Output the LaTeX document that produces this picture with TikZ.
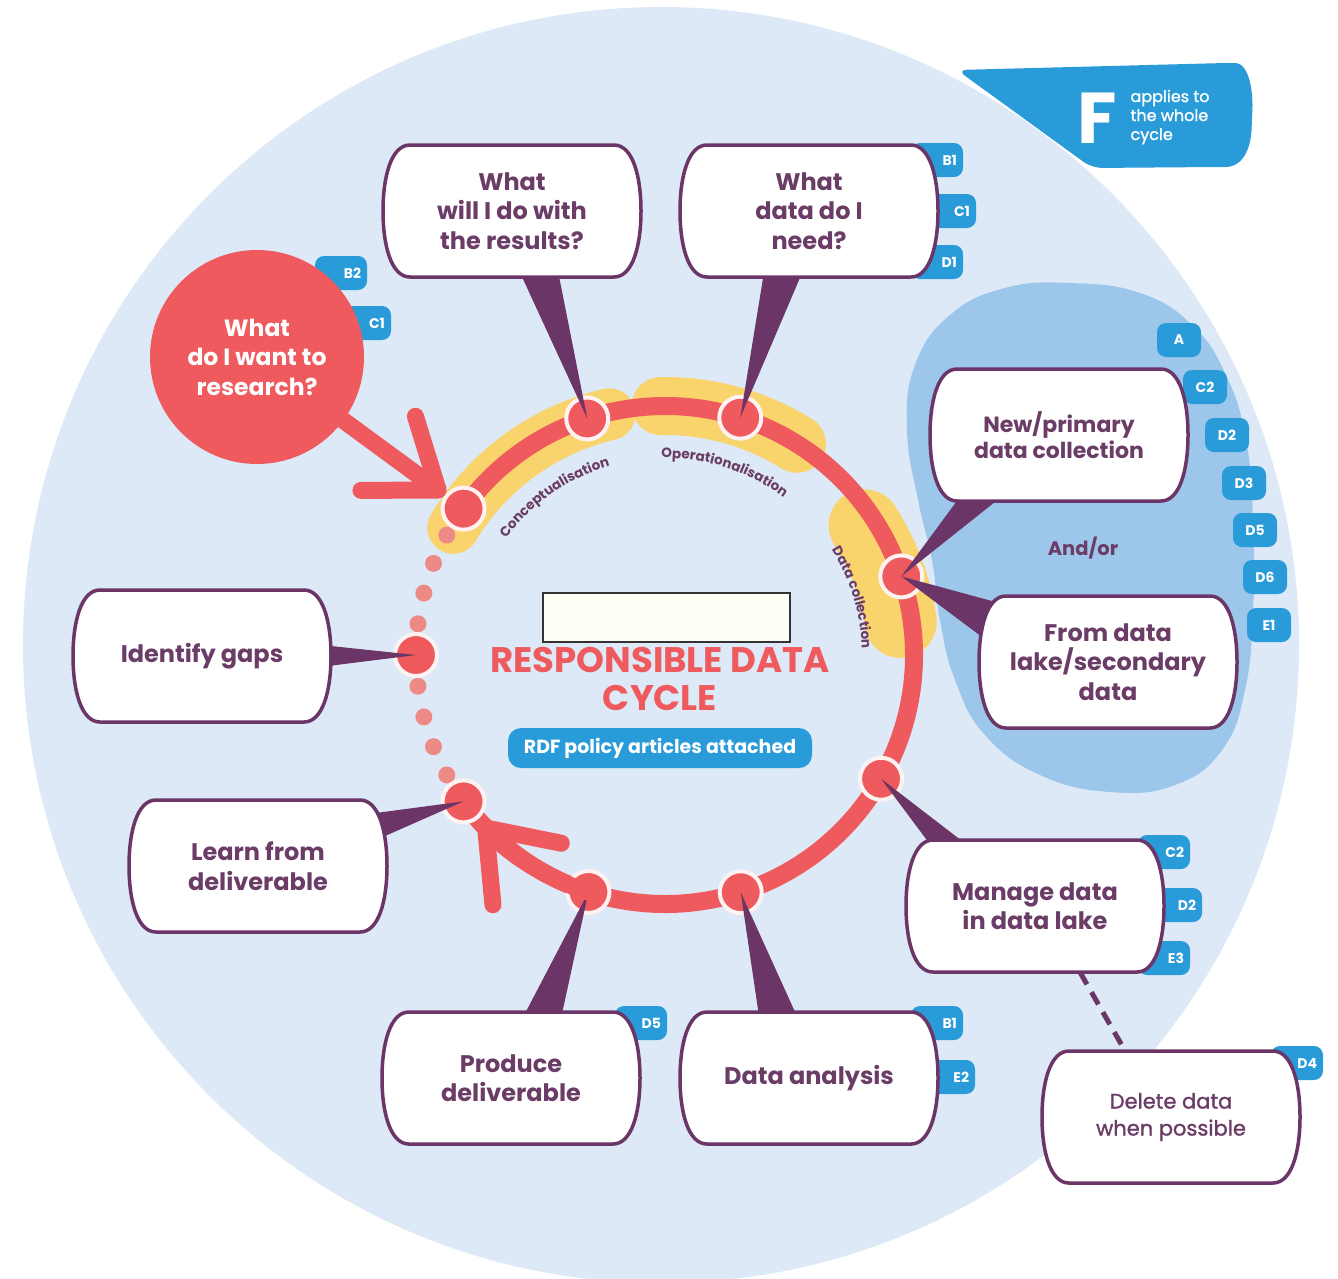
\documentclass[tikz,border=0pt]{standalone}
\usepackage{fontspec}
\setmainfont{Poppins}
\newfontfamily\popsemi[FakeBold=1.3]{Poppins}
\usetikzlibrary{arrows.meta,decorations.text,calc}
\pgfdeclarelayer{lay0}\pgfdeclarelayer{lay1}\pgfdeclarelayer{lay2}
\pgfsetlayers{lay0,lay1,lay2,main}
\definecolor{bgc}{HTML}{DDE9F6}
\definecolor{blobc}{HTML}{9CC6EA}
\definecolor{tagc}{HTML}{2A9BD9}
\definecolor{redc}{HTML}{EE5A5D}
\definecolor{dotc}{HTML}{EE8A86}
\definecolor{yelc}{HTML}{F9D36B}
\definecolor{purc}{HTML}{6B3667}
\definecolor{txtc}{HTML}{6A3C66}
\newcommand\boxshape[1]{\path[boxdraw, shift={(#1.center)}] (-102,-66) -- (102,-66) .. controls (121,-66) and (129,-34) .. (129,0) .. controls (129,34) and (121,66) .. (102,66) -- (-102,66) .. controls (-121,66) and (-129,34) .. (-129,0) .. controls (-129,-34) and (-121,-66) .. (-102,-66) -- cycle;}
\begin{document}
\begin{tikzpicture}[x=1pt,y=-1pt,
  boxtxt/.style={minimum width=258pt, minimum height=132pt, align=center, text=txtc, inner sep=0pt, font=\fontsize{24}{29.5}\selectfont\bfseries},
  boxdraw/.style={fill=white, draw=purc, line width=3.5pt},
  rnode/.style={circle, fill=redc, draw=white!92!redc, line width=4pt, minimum size=42pt, inner sep=0pt},
  ringline/.style={draw=redc, line width=18pt},
  yel/.style={draw=yelc, line cap=round},
  ptr/.style={fill=purc},
  tagbase/.style={fill=tagc, text=white, rounded corners=9pt, minimum height=34pt, inner ysep=0pt, font=\fontsize{14}{14}\selectfont\bfseries},
  tag/.style={tagbase, text width=40pt, align=right, inner xsep=6pt, xshift=-11pt},
  laketag/.style={tagbase, text width=28pt, align=center, inner xsep=8pt, xshift=-3pt},
  redarrow/.style={draw=redc, line width=17pt, line cap=round, -{Straight Barb[length=62pt,width=92pt,round]}},
  arclabel/.style={decorate, decoration={text along path, text align=center, text color=txtc, text={|\fontsize{13.5}{14}\selectfont\bfseries|#1}}}
]
\useasboundingbox (0,0) rectangle (1338,1278);
\coordinate (ctr) at (665,655);
\begin{pgfonlayer}{lay0}
\fill[white] (0,0) rectangle (1338,1278);
\fill[bgc] (661,645) circle[radius=638];
\fill[blobc] plot[smooth cycle, tension=0.75] coordinates {(1070,283) (1140,293) (1192,325) (1226,375) (1246,440) (1253,520) (1253,610) (1245,690) (1222,750) (1175,785) (1110,792) (1040,775) (985,735) (955,680) (940,620) (932,560) (918,500) (907,430) (915,365) (950,315) (1005,288)};
\draw[yel, line width=52pt] ([shift={(-149:247)}]ctr) arc[start angle=-149, end angle=-103, radius=247];
\draw[yel, line width=58pt] ([shift={(-91:249)}]ctr) arc[start angle=-91, end angle=-58, radius=249];
\draw[yel, line width=72pt] ([shift={(-33:238)}]ctr) arc[start angle=-33, end angle=-8, radius=238];
\draw[ringline] ([shift={(-144:249)}]ctr) arc[start angle=-144, end angle=144, radius=249];
\foreach \a in {-151.2,-158.4,-165.6,-172.8,-187.2,-194.4,-201.6,-208.8}
  \fill[dotc] ([shift={(\a:249)}]ctr) circle[radius=8.5];
\foreach \nm/\a in {nC/-144, nW/-108.2, nO/-72.4, nD/-18.4, nM/29.8, nA/72.3, nP/107.9, nL/144, nG/180}
  \node[rnode] (\nm) at ([shift={(\a:249)}]ctr) {};
\path[arclabel=Conceptualisation] ([shift={(-150:197)}]ctr) arc[start angle=-150, end angle=-100, radius=197];
\path[arclabel=Operationalisation] ([shift={(-97:197)}]ctr) arc[start angle=-97, end angle=-47, radius=197];
\path[arclabel=Data collection] ([shift={(-42:197)}]ctr) arc[start angle=-42, end angle=8, radius=197];
\end{pgfonlayer}

% main layer: texts
\node[circle, fill=redc, minimum size=214pt, inner sep=0pt, text=white, align=center, font=\fontsize{23.5}{29.5}\selectfont\bfseries] (q) at (257,357) {What\\do I want to\\research?};
\node[boxtxt] (b1) at (512,211) {What\\will I do with\\the results?};
\node[boxtxt] (b2) at (809,211) {What\\data do I\\need?};
\node[boxtxt, font=\fontsize{22}{26.5}\selectfont\bfseries] (b3) at (1059,435) {New/primary\\data collection};
\node[boxtxt] (b4) at (1108,662) {From data\\lake/secondary\\data};
\node[boxtxt] (b5) at (202,656) {Identify gaps};
\node[boxtxt] (b6) at (258,866) {Learn from\\deliverable};
\node[boxtxt] (b7) at (1035,906) {Manage data\\in data lake};
\node[boxtxt] (b8) at (511,1078) {Produce\\deliverable};
\node[boxtxt] (b9) at (809,1078) {Data analysis};
\node[boxtxt, font=\fontsize{21}{27}\popsemi] (b10) at (1171,1117) {Delete data\\when possible};
\node[draw=black!80, fill=white!96!yellow, line width=2.5pt, minimum width=247pt, minimum height=49pt, inner sep=0pt] (redact) at (666.5,617.5) {};
\node[text=redc, align=center, font=\fontsize{35.5}{38}\selectfont\bfseries] (title) at (660,679) {RESPONSIBLE DATA\\CYCLE};
\node[fill=tagc, rounded corners=13pt, minimum width=304pt, minimum height=40pt, text=white, font=\fontsize{19}{20}\selectfont\bfseries] (rdf) at (660,748) {RDF policy articles attached};
\node[text=txtc, font=\fontsize{19.5}{20}\selectfont\bfseries] (andor) at (1083,548) {And/or};
\fill[tagc, rounded corners=10pt] (957,70) -- (1225,63) .. controls (1250,63) and (1253,95) .. (1252,118) .. controls (1251,145) and (1245,167) .. (1215,167) -- (1092,168) -- cycle;
\node[text=white, font=\fontsize{72}{72}\selectfont\bfseries] (F) at (1097,118) {F};
\node[text=white, align=left, anchor=west, font=\fontsize{16}{19}\popsemi] (fa) at (1127,117) {applies to\\the whole\\cycle};

\begin{pgfonlayer}{lay0}
\fill[ptr] ([shift={(5,55)}]b1.center) -- ([shift={(45,55)}]b1.center) -- (nW.center) -- cycle;
\fill[ptr] ([shift={(-44,55)}]b2.center) -- ([shift={(-4,55)}]b2.center) -- (nO.center) -- cycle;
\fill[ptr] ([shift={(-94,55)}]b3.center) -- ([shift={(-49,55)}]b3.center) -- (nD.center) -- cycle;
\fill[ptr] ([shift={(-105,-58)}]b4.center) -- ([shift={(-122,-22)}]b4.center) -- (nD.center) -- cycle;
\fill[ptr] ([shift={(110,-12)}]b5.center) -- ([shift={(110,12)}]b5.center) -- (nG.center) -- cycle;
\fill[ptr] ([shift={(110,-52)}]b6.center) -- ([shift={(118,-26)}]b6.center) -- (nL.center) -- cycle;
\fill[ptr] ([shift={(-100,-55)}]b7.center) -- ([shift={(-60,-55)}]b7.center) -- (nM.center) -- cycle;
\fill[ptr] ([shift={(9,-55)}]b8.center) -- ([shift={(49,-55)}]b8.center) -- (nP.center) -- cycle;
\fill[ptr] ([shift={(-49,-55)}]b9.center) -- ([shift={(-9,-55)}]b9.center) -- (nA.center) -- cycle;
\draw[redarrow] (q) -- (nC);
\draw[redarrow] (nP.center) arc[start angle=107.9, end angle=138, radius=249];
\draw[draw=purc, line width=5pt, dash pattern=on 14pt off 9pt] ([xshift=45pt]b7.south) -- ([xshift=-46pt]b10.north);
\end{pgfonlayer}

\begin{pgfonlayer}{lay1}
\foreach \i/\x/\y/\t in {1/948/160/B1, 2/961/211/C1, 3/948/262/D1, 4/352/273/B2, 5/376/323/C1, 13/1175/852/C2, 14/1187/905/D2, 15/1175/958/E3, 16/652/1023/D5, 17/948/1023/B1, 18/960/1077/E2, 19/1308/1063/D4}
  \node[tag] (tag\i) at (\x,\y) {\t};
\foreach \i/\x/\y/\t in {6/1182/340/A, 7/1208/387/C2, 8/1230/435/D2, 9/1247/483/D3, 10/1258/530/D5, 11/1268/577/D6, 12/1272/625/E1}
  \node[laketag] (tag\i) at (\x,\y) {\t};
\end{pgfonlayer}

\begin{pgfonlayer}{lay2}
\foreach \b in {b1,b2,b3,b4,b5,b6,b7,b8,b9,b10} {\boxshape{\b}}
\end{pgfonlayer}
\end{tikzpicture}
\end{document}
